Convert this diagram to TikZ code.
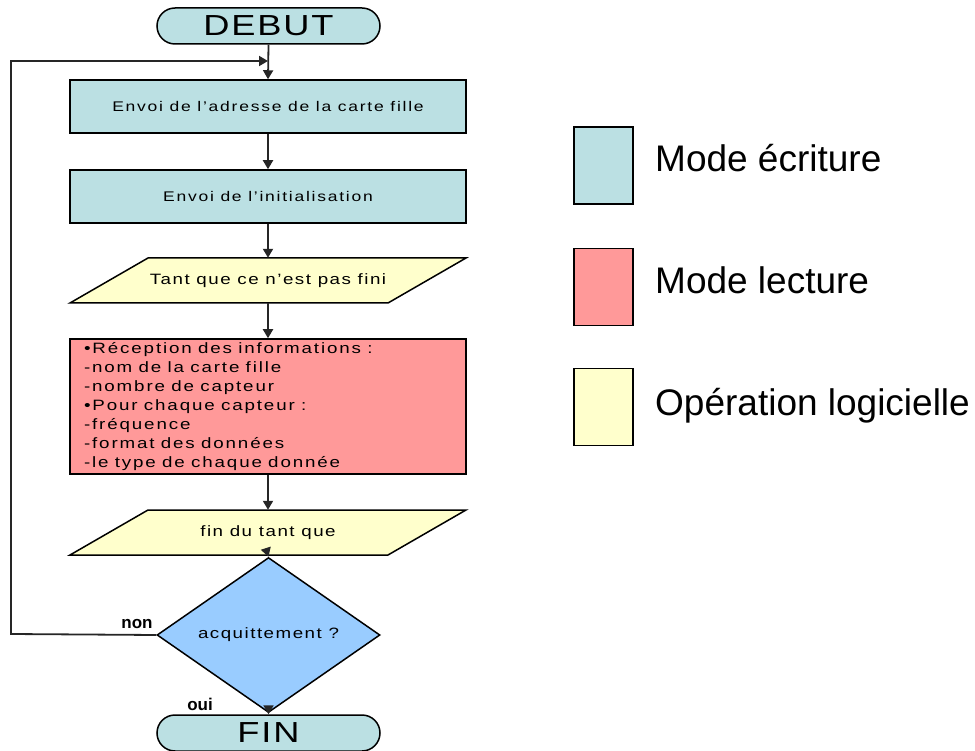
\documentclass[tikz,border=0pt]{standalone}
\usepackage{fontspec}
\setmainfont{Liberation Sans}
\newfontfamily\flowfont[LetterSpace=10]{Liberation Sans}
\newfontfamily\parafont[LetterSpace=8]{Liberation Sans}
\newfontfamily\termfont[LetterSpace=5]{Liberation Sans}
\newcommand{\hstretch}[1]{\scalebox{1.25}[1]{#1}}
\usetikzlibrary{shapes.misc,shapes.geometric,arrows.meta}
\definecolor{wblue}{HTML}{BBE0E3}
\definecolor{rred}{HTML}{FF9999}
\definecolor{lyel}{HTML}{FFFFCC}
\definecolor{dblue}{HTML}{99CCFF}
\begin{document}
\begin{tikzpicture}[x=1pt,y=-1pt,
  outl/.style={draw=black,line width=1.5pt},
  term/.style={outl,rounded rectangle,fill=wblue,minimum width=223pt,minimum height=36pt,inner sep=0pt,font=\termfont\fontsize{29}{32}\selectfont},
  wbox/.style={outl,rectangle,fill=wblue,minimum width=396pt,minimum height=53pt,inner sep=0pt,font=\flowfont\fontsize{14}{17}\selectfont},
  rbox/.style={outl,rectangle,fill=rred,minimum width=396pt,minimum height=135pt,inner xsep=14pt,inner ysep=0pt,text width=368pt,align=left,font=\flowfont\fontsize{15}{19}\selectfont},
  para/.style={outl,fill=lyel,line join=miter},
  ptext/.style={rectangle,minimum width=240pt,minimum height=45pt,inner sep=0pt,font=\parafont\fontsize{15}{18}\selectfont},
  dec/.style={outl,diamond,fill=dblue,minimum width=223pt,minimum height=88pt,inner sep=0pt,font=\parafont\fontsize{15}{18}\selectfont},
  arr/.style={line width=1.8pt,draw=black!85,-{Triangle[length=9pt,width=10pt]}},
  lab/.style={font=\bfseries\fontsize{17}{20}\selectfont,inner sep=0pt},
  legsq/.style={outl,rectangle,minimum width=59pt,minimum height=77pt,inner sep=0pt},
  legtxt/.style={anchor=base west,inner sep=0pt,font=\fontsize{37}{44}\selectfont}
]
\useasboundingbox (0,0) rectangle (975,751);

% flowchart shapes
\node[term] (debut) at (268.5,26) {\hstretch{DEBUT}};
\node[wbox] (b1) at (268,106.5) {\hstretch{Envoi de l’adresse de la carte fille}};
\node[wbox] (b2) at (268,196.5) {\hstretch{Envoi de l’initialisation}};
\draw[para] (148,258) -- (466,258) -- (388,303) -- (70,303) -- cycle;
\node[ptext] (p1) at (268,280.5) {\hstretch{Tant que ce n’est pas fini}};
\node[rbox] (r) at (268,406.5) {\hstretch{\begin{tabular}{@{}l@{}}•Réception des informations :\\-nom de la carte fille\\-nombre de capteur\\•Pour chaque capteur :\\-fréquence\\-format des données\\-le type de chaque donnée\end{tabular}}};
\draw[para] (148,510) -- (466,510) -- (388,555) -- (70,555) -- cycle;
\node[ptext] (p2) at (268,532.5) {\hstretch{fin du tant que}};
\node[dec] (d) at (268.5,635) {\hstretch{acquittement ?}};
\node[term] (fin) at (268.5,733) {\hstretch{FIN}};

% labels
\node[lab] (non) at (137,624) {non};
\node[lab] (oui) at (200,704) {oui};

% connectors
\coordinate (loopin) at (268,61);
\coordinate (c1) at (11,634);
\coordinate (c2) at (11,61);
\draw[arr] (debut.south) -- (b1.north);
\draw[arr] (b1.south) -- (b2.north);
\draw[arr] (b2.south) -- (p1.north);
\draw[arr] (p1.south) -- (r.north);
\draw[arr] (r.south) -- (p2.north);
\draw[arr] (p2.south) -- (d.north);
\draw[arr] (d.south) -- (fin.north);
\draw[arr] (d.west) -- (c1) -- (c2) -- (loopin);

% legend
\node[legsq,fill=wblue] (l1) at (603.5,165.5) {};
\node[legsq,fill=rred] (l2) at (603.5,287) {};
\node[legsq,fill=lyel] (l3) at (603.5,407) {};
\node[legtxt] (t1) at (655,172) {Mode écriture};
\node[legtxt] (t2) at (655,294) {Mode lecture};
\node[legtxt] (t3) at (655,415) {Opération logicielle};
\end{tikzpicture}
\end{document}
